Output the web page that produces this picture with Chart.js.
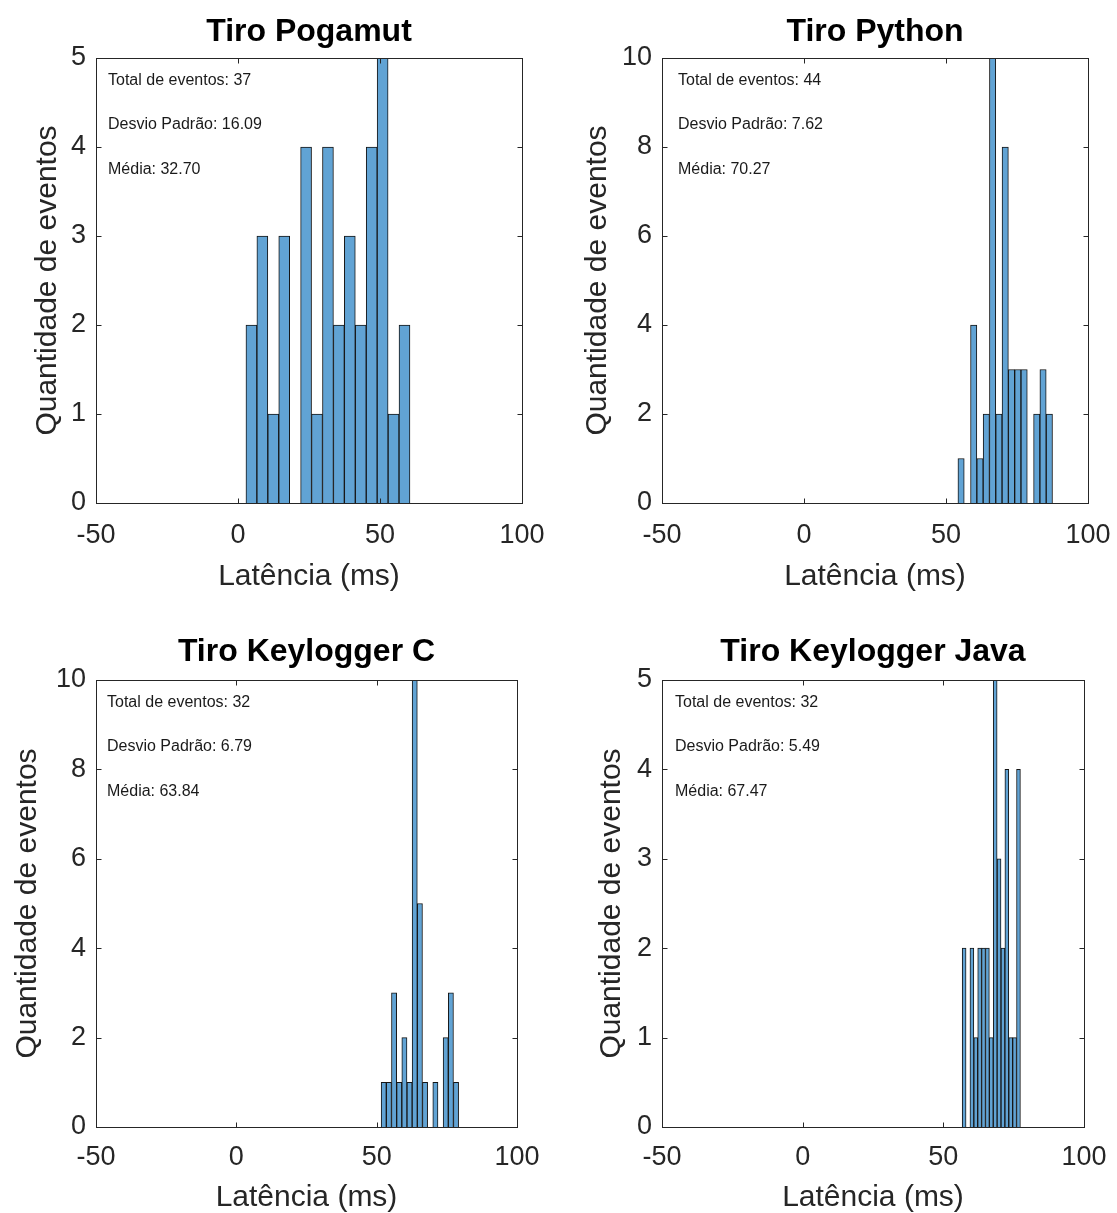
<!DOCTYPE html>
<html>
<head>
<meta charset="utf-8">
<title>Latência dos tiros</title>
<script src="https://cdn.jsdelivr.net/npm/chart.js@4.4.1/dist/chart.umd.min.js"></script>
<style>
  body { margin: 0; background: #fff; overflow: hidden; }
  .panel { position: absolute; }
  canvas { display: block; }
</style>
</head>
<body>
<div class="panel" style="left:0;top:0"><canvas id="c0" width="558" height="606"></canvas></div>
<div class="panel" style="left:558px;top:0"><canvas id="c1" width="559" height="606"></canvas></div>
<div class="panel" style="left:0;top:606px"><canvas id="c2" width="558" height="607"></canvas></div>
<div class="panel" style="left:558px;top:606px"><canvas id="c3" width="559" height="607"></canvas></div>
<script>
// histogram data: 15 bins per experiment
const titles = ["Tiro Pogamut", "Tiro Python", "Tiro Keylogger C", "Tiro Keylogger Java"];
const binStart = [2.8, 54.2, 51.6, 56.7];
const binWidth = [3.85, 2.22, 1.84, 1.38];
const countsPogamut = [2, 3, 1, 3, 0, 4, 1, 4, 2, 3, 2, 4, 5, 1, 2];
const countsPython = [1, 0, 4, 1, 2, 10, 2, 8, 3, 3, 3, 0, 2, 3, 2];
const countsKeyloggerC = [1, 1, 3, 1, 2, 1, 10, 5, 1, 0, 1, 0, 2, 3, 1];
const countsKeyloggerJava = [2, 0, 2, 1, 2, 2, 2, 1, 5, 3, 2, 4, 1, 1, 4];
const counts = [countsPogamut, countsPython, countsKeyloggerC, countsKeyloggerJava];
const desvioPadrao = [16.09, 7.62, 6.79, 5.49];
const media = [32.70, 70.27, 63.84, 67.47];
const xMin = -50, xMax = 100, xStep = 50;
const yMax = [5, 10, 10, 5];
const yStep = [1, 2, 2, 1];

// per-panel spacing so every plot box sits where it should
const geom = [
  { yWidth: 96, padRight: 36, xHeight: 103, titleTop: 12.8, titleBottom: 6.8, yTitlePad: 33, xTitlePad: 14, xTickPad: 16.5, textX: 12 },
  { yWidth: 104, padRight: 29, xHeight: 103, titleTop: 12.8, titleBottom: 6.8, yTitlePad: 25, xTitlePad: 14, xTickPad: 16.5, textX: 16 },
  { yWidth: 96, padRight: 41, xHeight: 86, titleTop: 27.3, titleBottom: 8.3, yTitlePad: 13, xTitlePad: 0, xTickPad: 14, textX: 11 },
  { yWidth: 104, padRight: 33, xHeight: 86, titleTop: 27.3, titleBottom: 8.3, yTitlePad: 39, xTitlePad: 0, xTickPad: 14, textX: 13 }
];

const fontFamily = "'Liberation Sans', Arial, Helvetica, sans-serif";
const axisColor = "#262626";
const barFill = "rgb(97, 163, 212)";
const barEdge = "#151515";
const tickLen = 5;

// matlab-style box around the axes with inward ticks on all sides
const axesBox = {
  id: "axesBox",
  afterDatasetsDraw(chart) {
    const { ctx, chartArea: a, scales } = chart;
    const l = Math.round(a.left) + 0.5, r = Math.round(a.right) + 0.5;
    const t = Math.round(a.top) + 0.5, b = Math.round(a.bottom) + 0.5;
    ctx.save();
    ctx.strokeStyle = axisColor;
    ctx.lineWidth = 1;
    ctx.strokeRect(l, t, r - l, b - t);
    ctx.beginPath();
    scales.x.ticks.forEach((tk) => {
      const px = Math.round(scales.x.getPixelForValue(tk.value)) + 0.5;
      ctx.moveTo(px, b); ctx.lineTo(px, b - tickLen);
      ctx.moveTo(px, t); ctx.lineTo(px, t + tickLen);
    });
    scales.y.ticks.forEach((tk) => {
      const py = Math.round(scales.y.getPixelForValue(tk.value)) + 0.5;
      ctx.moveTo(l, py); ctx.lineTo(l + tickLen, py);
      ctx.moveTo(r, py); ctx.lineTo(r - tickLen, py);
    });
    ctx.stroke();
    ctx.restore();
  }
};

// summary lines in the upper left corner of each plot
const statsText = {
  id: "statsText",
  afterDraw(chart, args, opts) {
    const { ctx, chartArea: a } = chart;
    ctx.save();
    ctx.font = "16px " + fontFamily;
    ctx.fillStyle = "#1a1a1a";
    ctx.textBaseline = "middle";
    opts.lines.forEach((txt, k) => {
      ctx.fillText(txt, a.left + opts.x, a.top + a.height * (0.05 + 0.1 * k));
    });
    ctx.restore();
  }
};

function makeChart(i) {
  const g = geom[i];
  const total = counts[i].reduce((s, v) => s + v, 0);
  const points = counts[i].map((v, k) => ({ x: binStart[i] + binWidth[i] * (k + 0.5), y: v }));

  new Chart(document.getElementById("c" + i), {
    type: "bar",
    data: {
      datasets: [{
        data: points,
        backgroundColor: barFill,
        borderColor: barEdge,
        borderWidth: 1,
        borderSkipped: "start",
        barPercentage: 1,
        categoryPercentage: 1
      }]
    },
    options: {
      responsive: false,
      animation: false,
      events: [],
      layout: { padding: { left: 0, right: g.padRight, top: 0, bottom: 0 } },
      plugins: {
        legend: { display: false },
        tooltip: { enabled: false },
        title: {
          display: true,
          fullSize: false,
          text: titles[i],
          color: "#000",
          font: { family: fontFamily, size: 32, weight: "bold", lineHeight: 1.2 },
          padding: { top: g.titleTop, bottom: g.titleBottom }
        },
        statsText: {
          x: g.textX,
          lines: [
            "Total de eventos: " + total,
            "Desvio Padrão: " + desvioPadrao[i].toFixed(2),
            "Média: " + media[i].toFixed(2)
          ]
        }
      },
      scales: {
        x: {
          type: "linear",
          min: xMin,
          max: xMax,
          offset: false,
          grid: { display: false, drawTicks: false, offset: false },
          border: { display: false },
          ticks: {
            stepSize: xStep,
            color: axisColor,
            padding: g.xTickPad,
            maxRotation: 0,
            font: { family: fontFamily, size: 27 }
          },
          title: {
            display: true,
            text: "Latência (ms)",
            color: axisColor,
            font: { family: fontFamily, size: 30, lineHeight: 1 },
            padding: { top: 0, bottom: g.xTitlePad }
          },
          afterFit: (s) => {
            s.height = g.xHeight;
            s.paddingLeft = 0;
            s.paddingRight = 0;
          }
        },
        y: {
          min: 0,
          max: yMax[i],
          grid: { display: false, drawTicks: false },
          border: { display: false },
          ticks: {
            stepSize: yStep[i],
            color: axisColor,
            padding: 10,
            font: { family: fontFamily, size: 27 }
          },
          title: {
            display: true,
            text: "Quantidade de eventos",
            color: axisColor,
            font: { family: fontFamily, size: 30, lineHeight: 1 },
            padding: { top: g.yTitlePad, bottom: 0 }
          },
          afterFit: (s) => {
            s.width = g.yWidth;
            s.paddingTop = 0;
            s.paddingBottom = 0;
          }
        }
      }
    },
    plugins: [axesBox, statsText]
  });
}

for (let i = 0; i < 4; i++) makeChart(i);
</script>
</body>
</html>
